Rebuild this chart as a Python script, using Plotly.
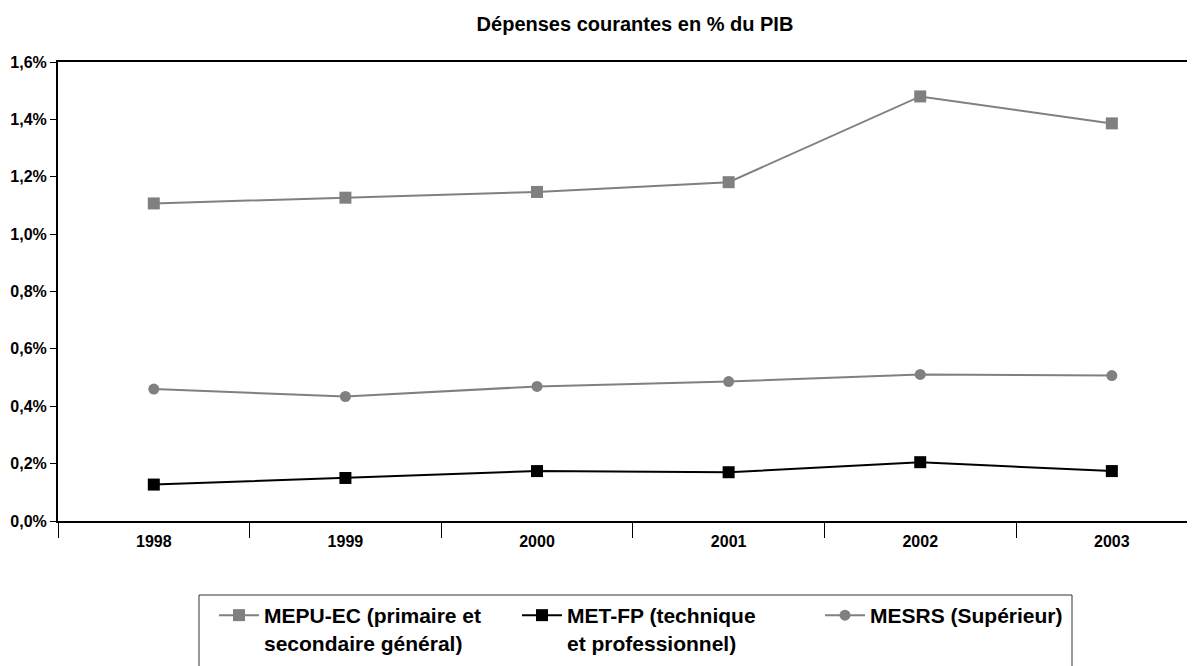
import plotly.graph_objects as go

years = ["1998", "1999", "2000", "2001", "2002", "2003"]
mepu_ec = [1.107, 1.127, 1.147, 1.181, 1.480, 1.386]
met_fp = [0.127, 0.150, 0.174, 0.170, 0.205, 0.174]
mesrs = [0.460, 0.434, 0.469, 0.486, 0.511, 0.507]

y_tickvals = [0.0, 0.2, 0.4, 0.6, 0.8, 1.0, 1.2, 1.4, 1.6]
y_ticktext = ["0,0%", "0,2%", "0,4%", "0,6%", "0,8%", "1,0%", "1,2%", "1,4%", "1,6%"]

names = ["MEPU-EC (primaire et<br>secondaire général)",
         "MET-FP (technique<br>et professionnel)",
         "MESRS (Supérieur)"]

FONT = "Liberation Sans, Arial, sans-serif"
GRAY = "#808080"

# page body has an 8px margin; the figure is sized so it ends at the window edge
W, H = 1187, 658
L, T, B = 50, 54, 145
plot_w = W - L
plot_h = H - T - B

fig = go.Figure()
fig.add_trace(go.Scatter(x=years, y=mepu_ec, name=names[0], mode="lines+markers",
                         line=dict(color=GRAY, width=2),
                         marker=dict(symbol="square", size=12, color=GRAY)))
fig.add_trace(go.Scatter(x=years, y=met_fp, name=names[1], mode="lines+markers",
                         line=dict(color="black", width=2),
                         marker=dict(symbol="square", size=12, color="black")))
fig.add_trace(go.Scatter(x=years, y=mesrs, name=names[2], mode="lines+markers",
                         line=dict(color=GRAY, width=2),
                         marker=dict(symbol="circle", size=11, color=GRAY)))

# legend frame (extends past the bottom edge, as in the reference)
fig.add_shape(type="rect", xref="paper", yref="paper",
              x0=(191 - L) / plot_w, x1=(1064 - L) / plot_w,
              y0=-(587 - T - plot_h) / plot_h, y1=-0.6,
              line=dict(color="#333333", width=1), fillcolor="rgba(0,0,0,0)", layer="above")

fig.update_layout(
    width=W, height=H,
    margin=dict(l=L, r=0, t=T, b=B, pad=0, autoexpand=False),
    paper_bgcolor="white", plot_bgcolor="white",
    font=dict(family=FONT, size=16, color="black", weight="bold"),
    title=dict(text="<b>Dépenses courantes en % du PIB</b>", x=627 / W, xanchor="center",
               y=1 - 15.5 / H, yanchor="middle",
               font=dict(family=FONT, size=20, color="black")),
    xaxis=dict(type="category", range=[-0.5, 5.434], showgrid=False, zeroline=False,
               showline=True, linecolor="black", linewidth=2, mirror=True,
               ticks="outside", tickson="boundaries", ticklen=15, tickwidth=1, tickcolor="black",
               ticklabelstandoff=5,
               tickfont=dict(family=FONT, size=16, color="black", weight="bold")),
    yaxis=dict(range=[0, 1.6], tickvals=y_tickvals, ticktext=y_ticktext, showgrid=False,
               zeroline=False, showline=True, linecolor="black", linewidth=2,
               ticks="outside", ticklen=6, tickwidth=1, tickcolor="black",
               tickfont=dict(family=FONT, size=16, color="black", weight="bold")),
    showlegend=True,
    legend=dict(orientation="h", x=(206 - L) / plot_w, xanchor="left",
                y=-(587 - T - plot_h) / plot_h, yanchor="top", valign="top",
                borderwidth=0, bgcolor="rgba(0,0,0,0)",
                itemwidth=40, entrywidth=248, entrywidthmode="pixels",
                font=dict(family=FONT, size=21, color="black", weight="bold")),
)

fig.write_html("out.html")
